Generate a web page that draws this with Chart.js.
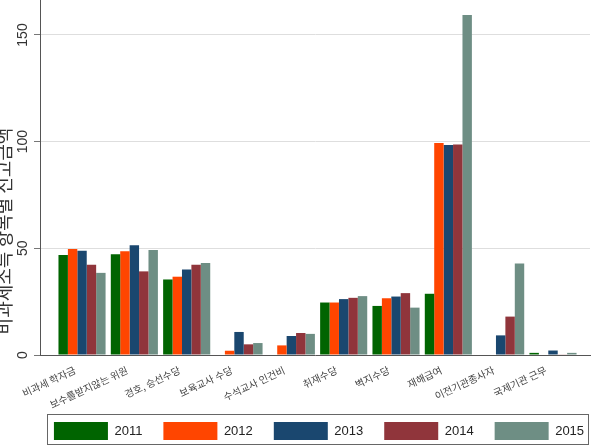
<!DOCTYPE html>
<html>
<head>
<meta charset="utf-8">
<script src="https://cdn.jsdelivr.net/npm/chart.js@4/dist/chart.umd.min.js"></script>
<style>
  html, body { margin: 0; padding: 0; background: #fff; }
  #wrap { width: 593px; height: 445px; }
</style>
</head>
<body>
<div id="wrap"><canvas id="c" width="593" height="445"></canvas></div>
<script>
// categories and yearly values
const categories = ['비과세 학자금', '보수를받지않는 위원', '경호, 승선수당', '보육교사 수당', '수석교사 인건비',
                    '취재수당', '벽지수당', '재해급여', '이전기관종사자', '국제기관 근무'];
const years = ['2011', '2012', '2013', '2014', '2015'];
const v2011 = [46.9, 47.2, 35.4, 0, 0, 24.6, 23.0, 28.7, 0, 1.0];
const v2012 = [49.7, 48.6, 36.7, 2.0, 4.5, 24.6, 26.6, 99.4, 0, 0];
const v2013 = [48.9, 51.4, 40.1, 10.8, 8.9, 26.2, 27.4, 98.4, 9.2, 2.1];
const v2014 = [42.3, 39.2, 42.3, 5.0, 10.3, 26.8, 29.0, 98.7, 18.0, 0.3];
const v2015 = [38.5, 49.2, 43.1, 5.6, 9.9, 27.6, 22.2, 159.4, 42.9, 1.0];
const yTicks = [0, 50, 100, 150];
const yTitle = '비과세소득 항목별 신고금액';

const colors = ['#006400', '#ff4500', '#1a476f', '#90353b', '#6e8e84'];
const series = [v2011, v2012, v2013, v2014, v2015];

const datasets = series.map((vals, k) => ({
  label: years[k],
  data: vals.map((v, i) => ({ x: i, y: v })),
  backgroundColor: colors[k],
  borderWidth: 0,
  categoryPercentage: 0.9,
  barPercentage: 1.0
}));

const LEG_PAD = 21;
const LEG_DY = -14;

// legend placement, rotated y tick labels, axis title, legend frame
const extras = {
  id: 'extras',
  afterLayout(chart) {
    const lg = chart.legend;
    lg.left = 31;
    lg.right = 607;
    lg.width = lg.right - lg.left;
    lg.top += LEG_DY;
    lg.bottom += LEG_DY;
  },
  afterDraw(chart) {
    const ctx = chart.ctx;
    const y = chart.scales.y;
    ctx.save();
    ctx.fillStyle = '#333';
    ctx.font = '14px "Liberation Sans", Arial, sans-serif';
    ctx.textAlign = 'center';
    ctx.textBaseline = 'middle';
    yTicks.forEach(t => {
      ctx.save();
      ctx.translate(23, y.getPixelForValue(t));
      ctx.rotate(-Math.PI / 2);
      ctx.fillText(String(t), 0, 0);
      ctx.restore();
    });
    ctx.font = '18px "Noto Sans CJK KR", sans-serif';
    ctx.translate(4, 231);
    ctx.rotate(-Math.PI / 2);
    ctx.fillText(yTitle, 0, 0);
    ctx.restore();

    const lg = chart.legend;
    const cx = (lg.left + lg.right) / 2;
    const swTop = lg.top + LEG_PAD;
    ctx.save();
    ctx.strokeStyle = '#666';
    ctx.lineWidth = 1;
    ctx.strokeRect(Math.round(cx - 272) + 0.5, Math.round(swTop - 8) + 0.5, 541, 30);
    ctx.restore();
  }
};

new Chart(document.getElementById('c'), {
  type: 'bar',
  data: { datasets },
  plugins: [extras],
  options: {
    responsive: false,
    animation: false,
    devicePixelRatio: 1,
    layout: { padding: { left: 0, right: 3, top: 0, bottom: -19 } },
    plugins: {
      legend: {
        position: 'bottom',
        labels: {
          boxWidth: 54,
          boxHeight: 18,
          padding: LEG_PAD,
          color: '#222',
          font: { family: '"Liberation Sans", Arial, sans-serif', size: 13 }
        }
      },
      tooltip: { enabled: false }
    },
    scales: {
      x: {
        type: 'linear',
        offset: false,
        min: -0.803,
        max: 9.707,
        afterBuildTicks: axis => { axis.ticks = categories.map((_, i) => ({ value: i })); },
        afterFit: axis => { axis.height = 60; },
        grid: { display: false, drawTicks: false },
        border: { display: true, color: '#555', width: 1 },
        ticks: {
          autoSkip: false,
          minRotation: 25,
          maxRotation: 25,
          padding: 9,
          labelOffset: -7,
          color: '#444',
          font: { family: '"Noto Sans CJK KR", sans-serif', size: 10 },
          callback: v => categories[v] ?? ''
        }
      },
      y: {
        min: 0,
        max: 166.4,
        afterBuildTicks: axis => { axis.ticks = yTicks.map(v => ({ value: v })); },
        afterFit: axis => { axis.width = 40; },
        grid: { color: '#dedede', tickColor: '#777', tickLength: 6, drawTicks: true },
        border: { display: true, color: '#555', width: 1 },
        ticks: { display: false }
      }
    }
  }
});
</script>
</body>
</html>
